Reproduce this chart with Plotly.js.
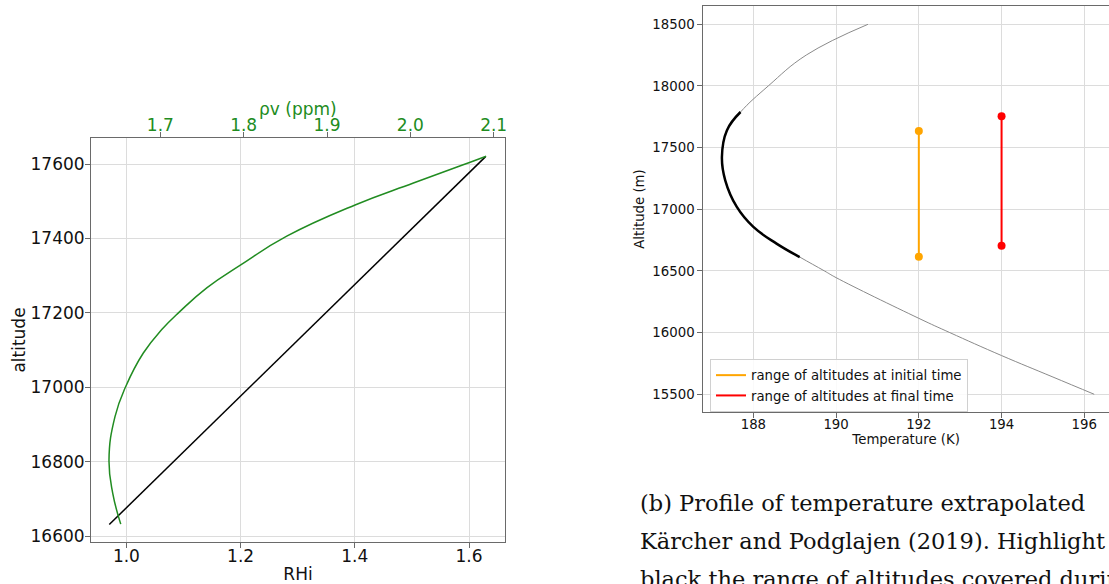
<!DOCTYPE html>
<html>
<head>
<meta charset="utf-8">
<script src="https://cdn.plot.ly/plotly-3.0.1.min.js"></script>
<style>
html,body{margin:0;padding:0;background:#fff;overflow:hidden;}
#chart{width:1109px;height:584px;}
</style>
</head>
<body>
<div id="chart"></div>
<script>
// ---------- Left panel data ----------
const rhiAlt = [16631, 17620];
const rhiValues = [0.970, 1.629];

const rhoAlt = [16632, 16715, 16805, 16921, 17002, 17092, 17155, 17204, 17268, 17329, 17406, 17490, 17549, 17605, 17621];
const rhoValues = [1.6525, 1.6429, 1.6384, 1.6456, 1.6585, 1.6796, 1.7017, 1.7236, 1.7561, 1.7965, 1.8517, 1.9337, 2.0037, 2.0718, 2.0910];

// ---------- Right panel data ----------
const profileAlt = [15500, 15643, 15814, 16000, 16116, 16446, 16500, 16613, 16722, 16857, 17019, 17235, 17424, 17640, 17789, 18000, 18251, 18500];
const profileT = [196.24, 195.22, 194.00, 192.75, 192.00, 190.00, 189.72, 189.12, 188.56, 188.00, 187.60, 187.32, 187.24, 187.36, 187.69, 188.36, 189.28, 190.77];
const highlightLow = 16613;
const highlightHigh = 17789;

const rangeLabels = ['range of altitudes at initial time', 'range of altitudes at final time'];
const rangeT = [192, 194];
const rangeLow = [16616, 16705];
const rangeHigh = [17635, 17754];
const rangeColors = ['#FFA500', '#FF0000'];

// ---------- Caption ----------
const captionLines = [
  '(b) Profile of temperature extrapolated',
  'Kärcher and Podglajen (2019). Highlight',
  'black the range of altitudes covered durin'
];

const W = 1109, H = 584;
const px = v => v / W;
const py = v => 1 - v / H;

const GREEN = '#218c21';
const GRID = '#dcdcdc';
const FRAME = '#6a6a6a';

const hiIdx = profileAlt.map((a, i) => i).filter(i => profileAlt[i] >= highlightLow && profileAlt[i] <= highlightHigh);

const traces = [
  {x: rhiValues, y: rhiAlt, xaxis: 'x', yaxis: 'y', mode: 'lines', line: {color: '#000', width: 1.5}, showlegend: false, hoverinfo: 'skip'},
  {x: rhoValues, y: rhoAlt, xaxis: 'x2', yaxis: 'y', mode: 'lines', line: {color: GREEN, width: 1.5, shape: 'spline', smoothing: 1.3}, showlegend: false, hoverinfo: 'skip'},
  {x: profileT, y: profileAlt, xaxis: 'x3', yaxis: 'y3', mode: 'lines', line: {color: '#8a8a8a', width: 1, shape: 'spline', smoothing: 1.2}, showlegend: false, hoverinfo: 'skip'},
  {x: hiIdx.map(i => profileT[i]), y: hiIdx.map(i => profileAlt[i]), xaxis: 'x3', yaxis: 'y3', mode: 'lines', line: {color: '#000', width: 2.5, shape: 'spline', smoothing: 1.2}, showlegend: false, hoverinfo: 'skip'}
];
rangeLabels.forEach((lab, i) => {
  traces.push({x: [rangeT[i], rangeT[i]], y: [rangeLow[i], rangeHigh[i]], xaxis: 'x3', yaxis: 'y3', mode: 'lines', name: lab, line: {color: rangeColors[i], width: 2}, showlegend: true});
});
rangeLabels.forEach((lab, i) => {
  traces.push({x: [rangeT[i], rangeT[i]], y: [rangeLow[i], rangeHigh[i]], xaxis: 'x3', yaxis: 'y3', mode: 'markers', marker: {color: rangeColors[i], size: 8}, showlegend: false, hoverinfo: 'skip'});
});

const leftX = [px(91), px(505)];
const leftY = [py(542), py(138)];
const rightX = [px(703.3), 1];
const rightY = [py(412.3), py(5.7)];

const baseAxis = {
  showgrid: true, gridcolor: GRID, gridwidth: 1, zeroline: false,
  showline: true, linecolor: FRAME, linewidth: 1,
  ticks: 'outside', ticklen: 5, tickcolor: FRAME, tickwidth: 1,
  automargin: false
};

const annotations = captionLines.map((t, i) => ({
  text: t, xref: 'paper', yref: 'paper', x: px(638), xanchor: 'left',
  y: py(503 + 38 * i), yanchor: 'middle', showarrow: false,
  font: {family: 'DejaVu Serif', size: 22.5, color: '#111'}
}));
annotations.push({
  text: 'ρv (ppm)', xref: 'paper', yref: 'paper', x: px(298), xanchor: 'center',
  y: py(109), yanchor: 'middle', showarrow: false,
  font: {family: 'DejaVu Sans', size: 17, color: GREEN}
});

const layout = {
  width: W, height: H,
  margin: {l: 0, r: 0, t: 0, b: 0, pad: 0},
  paper_bgcolor: '#fff', plot_bgcolor: '#fff',
  font: {family: 'DejaVu Sans', color: '#111'},
  showlegend: true,
  xaxis: Object.assign({}, baseAxis, {
    domain: leftX, anchor: 'y', range: [0.938, 1.663], dtick: 0.2, tick0: 0, tickformat: '.1f',
    mirror: true, tickfont: {size: 17}, ticklabelstandoff: -6,
    title: {text: 'RHi', font: {size: 17}, standoff: 6}
  }),
  xaxis2: {
    domain: leftX, anchor: 'y', overlaying: 'x', side: 'top', range: [1.6168, 2.1136], dtick: 0.1, tick0: 0, tickformat: '.1f',
    showgrid: false, zeroline: false, showline: false, automargin: false,
    ticks: 'outside', ticklen: 5, tickcolor: FRAME, tickwidth: 1, ticklabelstandoff: -6,
    tickfont: {size: 17, color: GREEN}
  },
  yaxis: Object.assign({}, baseAxis, {
    domain: leftY, anchor: 'x', range: [16584, 17670], dtick: 200, tick0: 0, tickformat: 'd',
    mirror: true, tickfont: {size: 17}, ticklabelstandoff: -3,
    title: {text: 'altitude', font: {size: 17}, standoff: 0}
  }),
  xaxis3: Object.assign({}, baseAxis, {
    domain: rightX, anchor: 'y3', range: [186.79, 196.597], dtick: 2, tick0: 0, tickformat: 'd',
    mirror: true, tickfont: {size: 13.3}, ticklabelstandoff: -5,
    title: {text: 'Temperature (K)', font: {size: 13.3}, standoff: 1}
  }),
  yaxis3: Object.assign({}, baseAxis, {
    domain: rightY, anchor: 'x3', range: [15354, 18651], dtick: 500, tick0: 0, tickformat: 'd',
    mirror: false, tickfont: {size: 13.3},
    title: {text: 'Altitude (m)', font: {size: 13.3}, standoff: 4}
  }),
  legend: {
    x: px(710), y: py(359), xanchor: 'left', yanchor: 'top',
    bgcolor: 'rgba(255,255,255,0.85)', bordercolor: '#d0d0d0', borderwidth: 1,
    font: {size: 13.3, color: '#111'}
  },
  annotations: annotations
};

Plotly.newPlot('chart', traces, layout, {displayModeBar: false, staticPlot: true});
</script>
</body>
</html>
